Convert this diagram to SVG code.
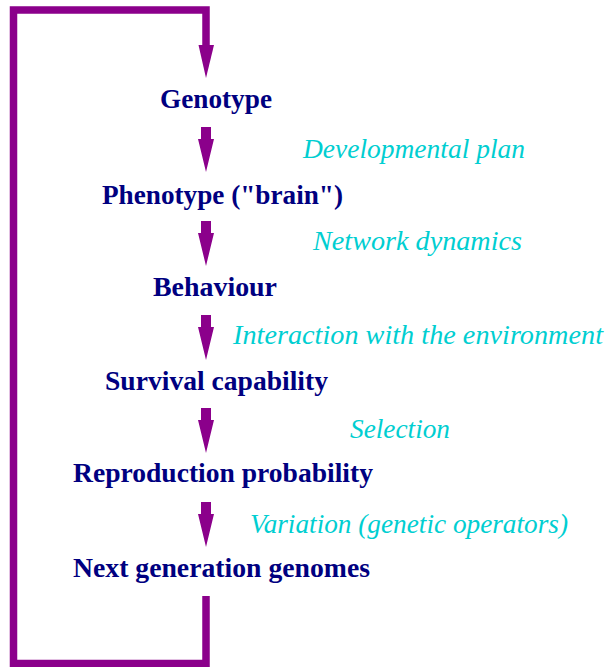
<svg xmlns="http://www.w3.org/2000/svg" width="605" height="667" viewBox="0 0 605 667">
  <defs>
    <style>
      .node { font-family: 'Liberation Serif', serif; font-weight: bold; font-size: 27.5px; fill: #000080; }
      .lbl { font-family: 'Liberation Serif', serif; font-style: italic; font-size: 27px; fill: #00CED1; }
      .loop { fill: none; stroke: #8B008B; stroke-width: 7.5; stroke-linejoin: miter; }
      .arr { fill: #8B008B; }
    </style>
    <!-- short downward arrow: shaft + head, tip at (0,0) -->
    <path id="down" class="arr" d="M-5,-45 H5 V-33 H8 L0,0 L-8,-33 H-5 Z"/>
  </defs>
  <rect width="605" height="667" fill="#ffffff"/>

  <g id="connectors">
    <!-- feedback loop from last node back to the top -->
    <path class="loop" d="M206,596 V663.5 H13.5 V10 H206 V48"/>
    <path class="arr" d="M198.5,45 H214 L206,78 Z"/>
    <use href="#down" x="206" y="172"/>
    <use href="#down" x="206" y="266"/>
    <use href="#down" x="206" y="360"/>
    <use href="#down" x="206" y="453"/>
    <use href="#down" x="206" y="547"/>
  </g>

  <g id="genotype"><text class="node" x="160" y="108" textLength="112" lengthAdjust="spacingAndGlyphs">Genotype</text></g>
  <g id="phenotype"><text class="node" x="102" y="204" textLength="241" lengthAdjust="spacingAndGlyphs">Phenotype ("brain")</text></g>
  <g id="behaviour"><text class="node" x="153" y="296" textLength="124" lengthAdjust="spacingAndGlyphs">Behaviour</text></g>
  <g id="survival"><text class="node" x="105" y="390" textLength="223" lengthAdjust="spacingAndGlyphs">Survival capability</text></g>
  <g id="reproduction"><text class="node" x="73" y="482" textLength="300" lengthAdjust="spacingAndGlyphs">Reproduction probability</text></g>
  <g id="next-generation"><text class="node" x="73" y="577" textLength="297" lengthAdjust="spacingAndGlyphs">Next generation genomes</text></g>

  <g id="edge-labels">
    <text class="lbl" x="303" y="158" textLength="222" lengthAdjust="spacingAndGlyphs">Developmental plan</text>
    <text class="lbl" x="313" y="250" textLength="209" lengthAdjust="spacingAndGlyphs">Network dynamics</text>
    <text class="lbl" x="233" y="344" textLength="370" lengthAdjust="spacingAndGlyphs">Interaction with the environment</text>
    <text class="lbl" x="350" y="438" textLength="100" lengthAdjust="spacingAndGlyphs">Selection</text>
    <text class="lbl" x="250" y="533" textLength="318" lengthAdjust="spacingAndGlyphs">Variation (genetic operators)</text>
  </g>
</svg>
